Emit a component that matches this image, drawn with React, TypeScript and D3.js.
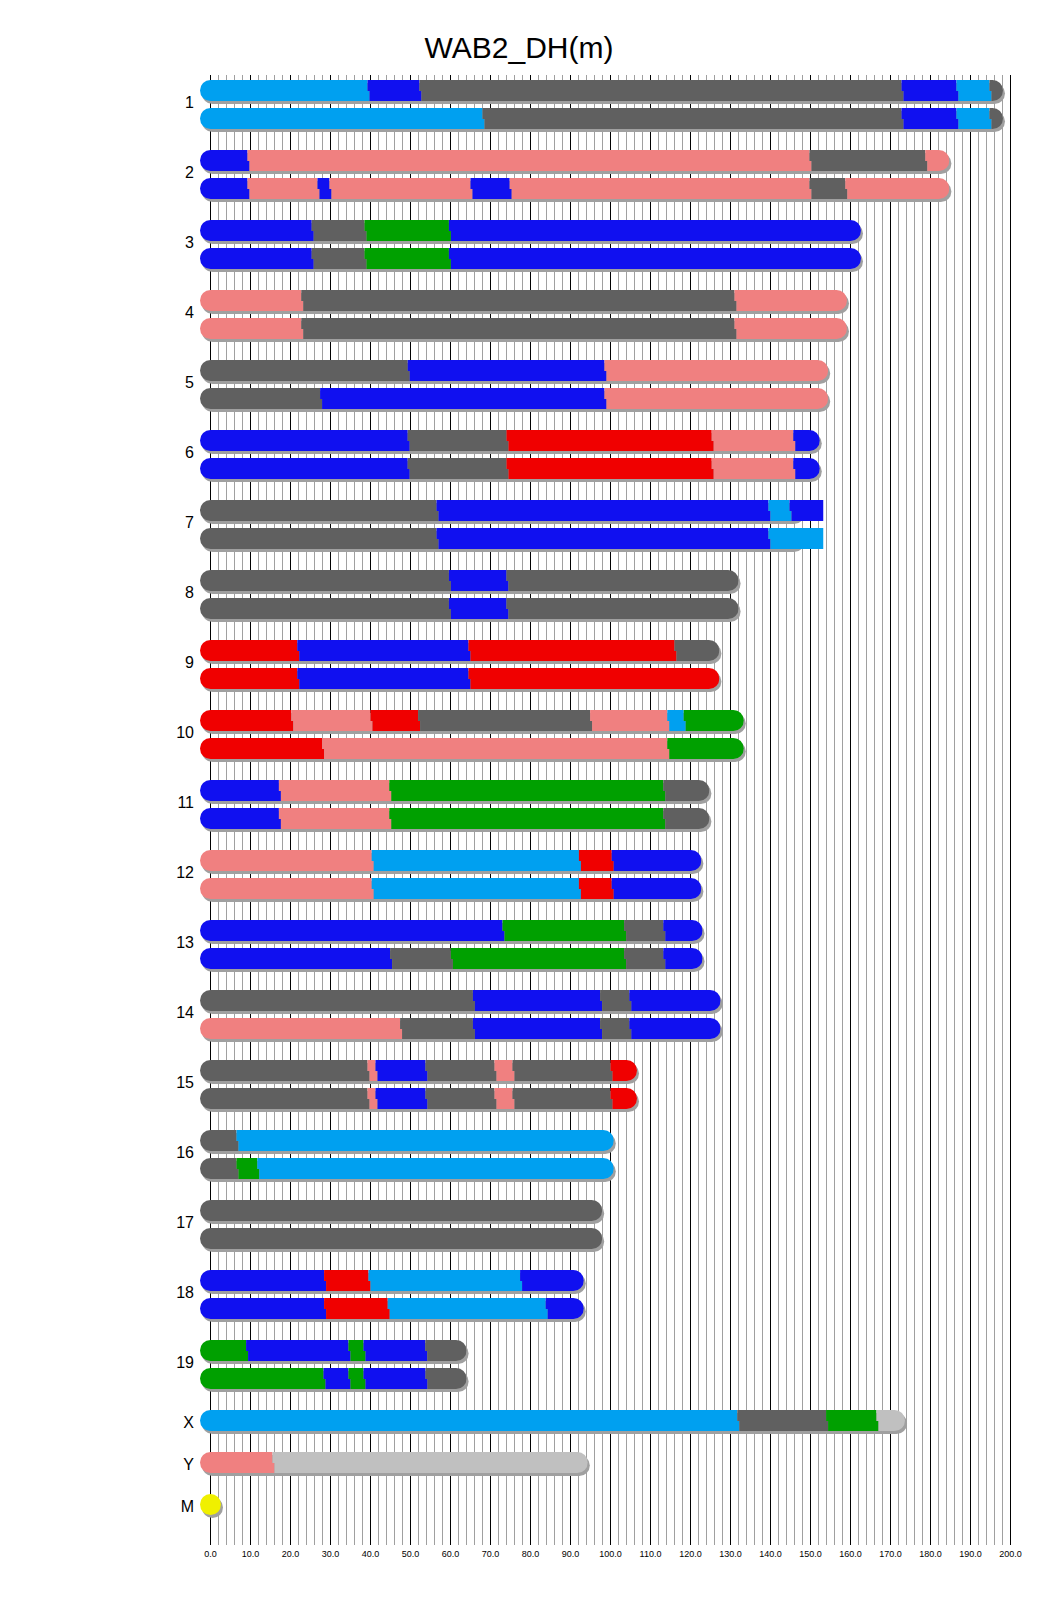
import React from "react";
import * as d3 from "d3";

// ---------- data ----------
const TITLE = "WAB2_DH(m)";
const CHROMS = ["1","2","3","4","5","6","7","8","9","10","11","12","13","14","15","16","17","18","19","X","Y","M"];
const LENGTHS = [195.5,182.1,160.0,156.5,151.8,149.7,145.4,129.4,124.6,130.7,122.1,120.1,120.4,124.9,104.0,98.2,95.3,90.7,61.4,171.0,91.7,0.016];
const TICKS = d3.range(0, 201, 10);

const COLORS: Record<string, string> = {
  lb: "#00a0f0", // light blue
  b: "#1010f0", // blue
  g: "#606060", // dark gray
  p: "#f08080", // pink
  r: "#f00000", // red
  gr: "#00a000", // green
  lg: "#c0c0c0", // light gray
  y: "#f0f000", // yellow
};

type Seg = [number, string]; // [end position (Mb), color key]

const chr1a: Seg[] = [[39.75,"lb"],[52.75,"b"],[173.25,"g"],[187,"b"],[195.25,"lb"],[195.5,"g"]];
const chr1b: Seg[] = [[68.5,"lb"],[173.25,"g"],[187,"b"],[195.25,"lb"],[195.5,"g"]];
const chr2a: Seg[] = [[9.75,"b"],[150.25,"p"],[179.2,"g"],[182.1,"p"]];
const chr2b: Seg[] = [[9.75,"b"],[27.25,"p"],[30.25,"b"],[65.5,"p"],[75.3,"b"],[150.25,"p"],[159.2,"g"],[182.1,"p"]];
const chr3a: Seg[] = [[25.8,"b"],[39,"g"],[60.1,"gr"],[160,"b"]];
const chr3b: Seg[] = [[25.8,"b"],[39,"g"],[60.1,"gr"],[160,"b"]];
const chr4a: Seg[] = [[23.2,"p"],[131.5,"g"],[156.5,"p"]];
const chr4b: Seg[] = [[23.2,"p"],[131.5,"g"],[156.5,"p"]];
const chr5a: Seg[] = [[49.8,"g"],[99,"b"],[151.8,"p"]];
const chr5b: Seg[] = [[27.9,"g"],[99,"b"],[151.8,"p"]];
const chr6a: Seg[] = [[49.8,"b"],[74.5,"g"],[125.8,"r"],[146.2,"p"],[149.7,"b"]];
const chr6b: Seg[] = [[49.8,"b"],[74.5,"g"],[125.8,"r"],[146.2,"p"],[149.7,"b"]];
const chr7a: Seg[] = [[57,"g"],[140,"b"],[145.25,"lb"],[153.25,"b"]];
const chr7b: Seg[] = [[57,"g"],[140,"b"],[153.25,"lb"]];
const chr8a: Seg[] = [[60.1,"g"],[74.5,"b"],[129.4,"g"]];
const chr8b: Seg[] = [[60.1,"g"],[74.5,"b"],[129.4,"g"]];
const chr9a: Seg[] = [[22.2,"r"],[65,"b"],[116.5,"r"],[124.6,"g"]];
const chr9b: Seg[] = [[22.2,"r"],[65,"b"],[124.6,"r"]];
const chr10a: Seg[] = [[20.7,"r"],[40.5,"p"],[52.4,"r"],[95.4,"g"],[114.7,"p"],[118.8,"lb"],[130.7,"gr"]];
const chr10b: Seg[] = [[28.4,"r"],[114.7,"p"],[130.7,"gr"]];
const chr11a: Seg[] = [[17.6,"b"],[45.2,"p"],[113.7,"gr"],[122.1,"g"]];
const chr11b: Seg[] = [[17.6,"b"],[45.2,"p"],[113.7,"gr"],[122.1,"g"]];
const chr12a: Seg[] = [[40.8,"p"],[92.6,"lb"],[100.8,"r"],[120.1,"b"]];
const chr12b: Seg[] = [[40.8,"p"],[92.6,"lb"],[100.8,"r"],[120.1,"b"]];
const chr13a: Seg[] = [[73.5,"b"],[103.9,"gr"],[113.7,"g"],[120.4,"b"]];
const chr13b: Seg[] = [[45.4,"b"],[60.6,"g"],[103.9,"gr"],[113.7,"g"],[120.4,"b"]];
const chr14a: Seg[] = [[66.1,"g"],[97.9,"b"],[105.2,"g"],[124.9,"b"]];
const chr14b: Seg[] = [[47.9,"p"],[66.1,"g"],[97.9,"b"],[105.2,"g"],[124.9,"b"]];
const chr15a: Seg[] = [[39.75,"g"],[41.75,"p"],[54.25,"b"],[71.5,"g"],[76,"p"],[100.5,"g"],[104,"r"]];
const chr15b: Seg[] = [[39.75,"g"],[41.75,"p"],[54.25,"b"],[71.5,"g"],[76,"p"],[100.5,"g"],[104,"r"]];
const chr16a: Seg[] = [[7,"g"],[98.2,"lb"]];
const chr16b: Seg[] = [[7,"g"],[12.2,"gr"],[98.2,"lb"]];
const chr17a: Seg[] = [[95.3,"g"]];
const chr17b: Seg[] = [[95.3,"g"]];
const chr18a: Seg[] = [[28.9,"b"],[40,"r"],[77.9,"lb"],[90.7,"b"]];
const chr18b: Seg[] = [[28.9,"b"],[44.8,"r"],[84.3,"lb"],[90.7,"b"]];
const chr19a: Seg[] = [[9.4,"gr"],[35,"b"],[38.75,"gr"],[54.2,"b"],[61.4,"g"]];
const chr19b: Seg[] = [[28.75,"gr"],[35,"b"],[38.75,"gr"],[54.25,"b"],[61.4,"g"]];
const chrX: Seg[] = [[132.2,"lb"],[154.4,"g"],[167,"gr"],[171.0,"lg"]];
const chrY: Seg[] = [[16,"p"],[91.7,"lg"]];

const HOMOLOGS: Seg[][][] = [
  [chr1a, chr1b], [chr2a, chr2b], [chr3a, chr3b], [chr4a, chr4b], [chr5a, chr5b],
  [chr6a, chr6b], [chr7a, chr7b], [chr8a, chr8b], [chr9a, chr9b], [chr10a, chr10b],
  [chr11a, chr11b], [chr12a, chr12b], [chr13a, chr13b], [chr14a, chr14b], [chr15a, chr15b],
  [chr16a, chr16b], [chr17a, chr17b], [chr18a, chr18b], [chr19a, chr19b], [chrX], [chrY], [],
];

// ---------- layout ----------
const W = 1040;
const H = 1616;
const BAR_H = 21;
const R = BAR_H / 2;
const PAIR_GAP = 28;
const SHADOW_DX = 2;
const SHADOW_DY = 3;
const STEP = 2;

const x = d3.scaleLinear().domain([0, 200]).range([210.5, 1010.5]);
const yRow = d3.scaleLinear().domain([0, 19, 21]).range([80, 1410, 1494]);

function Bar({ segs, L, top, id }: { segs: Seg[]; L: number; top: number; id: string }) {
  const maxEnd = segs.length ? segs[segs.length - 1][0] : L;
  const x0 = x(0);
  const xL = x(L);
  const xMax = x(maxEnd);
  const topH = Math.ceil(BAR_H / 2);
  let prev = 0;
  const rects: React.ReactNode[] = [];
  segs.forEach((s, i) => {
    const [end, key] = s;
    const first = i === 0;
    const last = i === segs.length - 1;
    const left = first ? x0 - R : x(prev);
    const right = last ? Math.max(x(end), xL + R) : x(end);
    const tl = first ? left : left - STEP;
    const tr = last ? right : right - STEP;
    rects.push(
      <rect key={`b${i}`} x={left} y={top + topH} width={right - left} height={BAR_H - topH} fill={COLORS[key]} />,
      <rect key={`t${i}`} x={tl} y={top} width={tr - tl} height={topH} fill={COLORS[key]} />
    );
    prev = end;
  });
  return (
    <g>
      <rect x={x0 - R + SHADOW_DX} y={top + SHADOW_DY} width={xL - x0 + 2 * R} height={BAR_H} rx={R} ry={R} fill="#a0a0a0" />
      <clipPath id={id}>
        <rect x={x0 - R} y={top} width={xL - x0 + 2 * R} height={BAR_H} rx={R} ry={R} />
        {maxEnd > L && <rect x={x0} y={top} width={xMax - x0} height={BAR_H} />}
      </clipPath>
      <g clipPath={`url(#${id})`}>{rects}</g>
    </g>
  );
}

export default function App() {
  const gridTop = 75;
  const gridBottom = 1545;
  const minor = d3.range(0, 201, 2);
  const fmt = d3.format(".1f");
  const font = "'Liberation Sans', Arial, Helvetica, sans-serif";

  return (
    <svg
      width={W}
      height={H}
      viewBox={`0 0 ${W} ${H}`}
      style={{ position: "absolute", left: 0, top: 0, display: "block", background: "#ffffff" }}
      fontFamily={font}
    >
      <rect x={0} y={0} width={W} height={H} fill="#ffffff" />
      <text x={519} y={57.5} textAnchor="middle" fontSize={30} fill="#000">{TITLE}</text>

      {/* grid */}
      {minor.map((v) => (
        <line
          key={`g${v}`}
          x1={x(v)}
          x2={x(v)}
          y1={gridTop}
          y2={gridBottom}
          stroke={v % 10 === 0 ? "#000000" : "#a0a0a0"}
          strokeWidth={1}
        />
      ))}

      {/* tick labels */}
      {TICKS.map((v) => (
        <text key={`t${v}`} x={x(v)} y={1557} textAnchor="middle" fontSize={9} fill="#000">
          {fmt(v)}
        </text>
      ))}

      {/* chromosomes */}
      {CHROMS.map((name, ci) => {
        const top = yRow(ci);
        const homs = HOMOLOGS[ci];
        const L = LENGTHS[ci];
        if (name === "M") {
          const cy = top + R;
          return (
            <g key={name}>
              <circle cx={x(0) + SHADOW_DX} cy={cy + SHADOW_DY} r={R} fill="#a0a0a0" />
              <circle cx={x(0)} cy={cy} r={R} fill={COLORS.y} />
              <text x={194} y={top + 17.5} textAnchor="end" fontSize={16} fill="#000">{name}</text>
            </g>
          );
        }
        const labelY = homs.length === 2 ? top + 28 : top + 17.5;
        return (
          <g key={name}>
            {homs.map((segs, hi) => (
              <Bar key={hi} segs={segs} L={L} top={top + hi * PAIR_GAP} id={`clip-${name}-${hi}`} />
            ))}
            <text x={194} y={labelY} textAnchor="end" fontSize={16} fill="#000">{name}</text>
          </g>
        );
      })}
    </svg>
  );
}
